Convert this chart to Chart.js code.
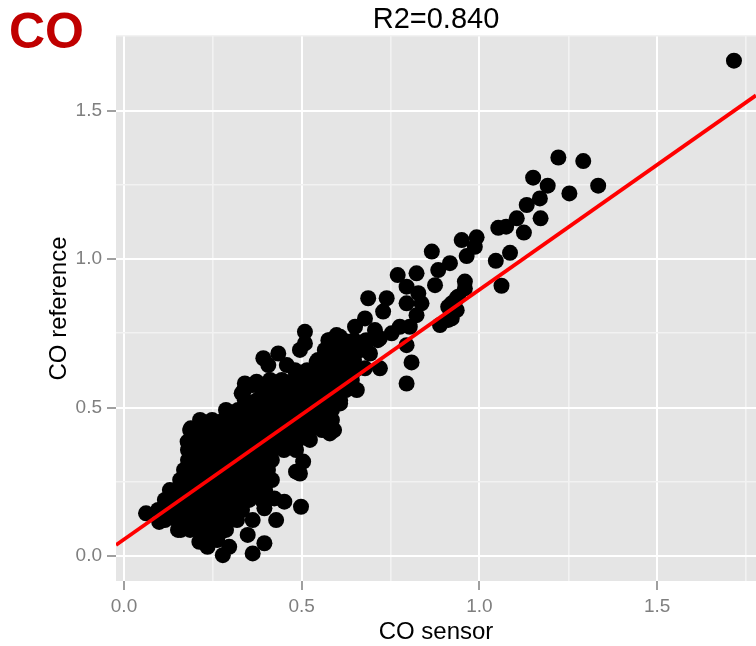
<!DOCTYPE html>
<html>
<head>
<meta charset="utf-8">
<script src="https://cdn.jsdelivr.net/npm/chart.js@4.4.1/dist/chart.umd.min.js"></script>
<style>
  html, body { margin: 0; padding: 0; background: #ffffff; }
  #wrap { position: relative; width: 756px; height: 646px; }
  #c { display: block; }
  #panel { position: absolute; left: 9px; top: 5.6px; font: bold 50px "Liberation Sans", Arial, sans-serif; line-height: 50px; color: #C00000; }
</style>
</head>
<body>
<div id="wrap">
  <canvas id="c" width="756" height="646"></canvas>
  <div id="panel">CO</div>
</div>
<script>
// ---- data ----
const chartTitle = 'R2=0.840';
const xTitle = 'CO sensor';
const yTitle = 'CO reference';
const majorTicks = [0.0, 0.5, 1.0, 1.5];

// individually distinguishable points
const sparseSensor = [1.716,1.222,1.292,1.151,1.192,1.334,1.253,1.170,1.133,1.105,
  1.172,1.053,1.075,1.125,0.950,0.992,0.987,0.964,1.086,1.046,
  0.917,1.062,0.959,0.959,0.940,0.922,0.922,0.866,0.884,0.770,
  0.823,0.875,0.795,0.828,0.687,0.739,0.729,0.795,0.837,0.936,
  0.912,0.936,0.912,0.889,0.823,0.804,0.776,0.753,0.678,0.650,
  0.706,0.720,0.678,0.692,0.608,0.575,0.509,0.509,0.795,0.809,
  0.795,0.720,0.678,0.655,0.617,0.626,0.598,0.579,0.626,0.495,
  0.434,0.392,0.458,0.406,0.542,0.608,0.340,0.373,0.331,0.434,
  0.495,0.608,0.570,0.579,0.537,0.289,0.354,0.504,0.495,0.467,
  0.338,0.362,0.188,0.221,0.179,0.484,0.423,0.451,0.498,0.395,
  0.362,0.428,0.348,0.395,0.362,0.296,0.278,0.268,0.212,0.235,
  0.160,0.099,0.062,0.132,0.287];
const sparseReference = [1.668,1.342,1.330,1.274,1.247,1.247,1.221,1.204,1.182,1.137,
  1.137,1.105,1.109,1.089,1.064,1.073,1.041,1.010,1.021,0.994,
  0.986,0.910,0.924,0.901,0.873,0.851,0.800,1.025,0.963,0.946,
  0.952,0.912,0.907,0.885,0.868,0.868,0.823,0.851,0.851,0.868,
  0.839,0.828,0.795,0.778,0.811,0.772,0.772,0.750,0.800,0.772,
  0.761,0.733,0.705,0.682,0.738,0.727,0.755,0.716,0.710,0.652,
  0.581,0.632,0.632,0.559,0.688,0.637,0.744,0.722,0.722,0.694,
  0.682,0.666,0.643,0.643,0.654,0.660,0.581,0.587,0.548,0.559,
  0.604,0.514,0.435,0.413,0.435,0.475,0.475,0.318,0.278,0.368,
  0.559,0.576,0.430,0.441,0.385,0.284,0.194,0.183,0.166,0.161,
  0.121,0.121,0.071,0.043,0.009,0.031,0.003,0.076,0.048,0.031,
  0.088,0.115,0.144,0.144,0.121];

// dense core of the cloud, read row by row (one reference value per row)
const coreRowReference = [0.727,0.694,0.660,0.626,0.593,0.559,0.525,0.492,0.458,0.424,0.391,
  0.357,0.323,0.290,0.256,0.222,0.189,0.155,0.121,0.088,0.054];
const coreRowSensor = [
  [0.579,0.613,0.647,0.681,0.714],
  [0.565,0.599,0.633,0.667],
  [0.546,0.579,0.613,0.647],
  [0.481,0.515,0.549,0.582,0.616,0.650],
  [0.411,0.444,0.478,0.512,0.546,0.579,0.608,0.641],
  [0.388,0.422,0.456,0.489,0.523,0.557,0.591,0.624],
  [0.340,0.374,0.408,0.442,0.475,0.509,0.543,0.577,0.608],
  [0.287,0.321,0.354,0.388,0.422,0.456,0.489,0.523,0.557,0.585],
  [0.214,0.248,0.281,0.315,0.349,0.383,0.416,0.450,0.484,0.518,0.551,0.585],
  [0.186,0.219,0.253,0.287,0.321,0.354,0.388,0.422,0.456,0.489,0.523,0.557,0.591],
  [0.186,0.219,0.253,0.287,0.321,0.354,0.388,0.422,0.456,0.489,0.523],
  [0.180,0.214,0.248,0.281,0.315,0.349,0.383,0.416,0.450,0.484],
  [0.180,0.214,0.248,0.281,0.315,0.349,0.383,0.416],
  [0.169,0.203,0.236,0.270,0.304,0.338,0.371,0.405],
  [0.158,0.191,0.225,0.259,0.293,0.326,0.360,0.394,0.416],
  [0.129,0.163,0.197,0.231,0.264,0.298,0.332,0.366,0.397],
  [0.115,0.149,0.183,0.217,0.250,0.284,0.318,0.352,0.388],
  [0.096,0.129,0.163,0.197,0.231,0.264,0.298,0.332],
  [0.115,0.149,0.183,0.217,0.250,0.284,0.318],
  [0.152,0.186,0.219,0.253,0.287],
  [0.228,0.262]
];

// fitted regression line, read at the panel edges
const fitSensor = [-0.0225, 1.778];
const fitReference = [0.037, 1.551];

// axis limits of the panel
const xLimits = [-0.0225, 1.778];
const yLimits = [-0.084, 1.751];

// ---- build chart data ----
const scatterData = sparseSensor.map((x, i) => ({ x: x, y: sparseReference[i] }));
coreRowSensor.forEach((row, r) => row.forEach(x => scatterData.push({ x: x, y: coreRowReference[r] })));
const lineData = fitSensor.map((x, i) => ({ x: x, y: fitReference[i] }));

const isMajor = v => majorTicks.some(m => Math.abs(m - v) < 1e-6);
const FONT = '"Liberation Sans", Arial, Helvetica, sans-serif';

const panelBg = {
  id: 'panelBg',
  beforeDraw(chart) {
    const { ctx, chartArea: a } = chart;
    ctx.save();
    ctx.fillStyle = '#E5E5E5';
    ctx.fillRect(a.left, a.top, a.right - a.left, a.bottom - a.top);
    ctx.restore();
  }
};

function axisGrid() {
  return {
    drawOnChartArea: true,
    drawTicks: true,
    tickLength: 9,
    color: ctx => (ctx.tick && isMajor(ctx.tick.value)) ? '#FFFFFF' : '#F2F2F2',
    lineWidth: ctx => (ctx.tick && isMajor(ctx.tick.value)) ? 2 : 1.6,
    tickColor: ctx => (ctx.tick && isMajor(ctx.tick.value)) ? '#7F7F7F' : 'rgba(0,0,0,0)',
    tickWidth: 1.5
  };
}

new Chart(document.getElementById('c'), {
  data: {
    datasets: [
      {
        type: 'line',
        data: lineData,
        borderColor: '#FF0000',
        borderWidth: 3.8,
        pointRadius: 0,
        fill: false,
        order: 0
      },
      {
        type: 'scatter',
        data: scatterData,
        backgroundColor: '#000000',
        borderWidth: 0,
        pointRadius: 8,
        pointHoverRadius: 8,
        order: 1
      }
    ]
  },
  options: {
    responsive: false,
    devicePixelRatio: 1,
    animation: false,
    events: [],
    layout: { padding: 0, autoPadding: false },
    plugins: {
      legend: { display: false },
      tooltip: { enabled: false },
      title: {
        display: true,
        text: chartTitle,
        color: '#000000',
        fullSize: false,
        font: { family: FONT, size: 29, weight: 'normal', lineHeight: 1 },
        padding: { top: 5, bottom: 2 }
      }
    },
    scales: {
      x: {
        type: 'linear',
        position: 'bottom',
        min: xLimits[0],
        max: xLimits[1],
        border: { display: false },
        grid: axisGrid(),
        ticks: {
          stepSize: 0.25,
          includeBounds: false,
          autoSkip: false,
          maxRotation: 0,
          padding: 5,
          color: '#7F7F7F',
          font: { family: FONT, size: 19 },
          callback: v => isMajor(v) ? v.toFixed(1) : ''
        },
        title: {
          display: true,
          text: xTitle,
          color: '#000000',
          font: { family: FONT, size: 24, lineHeight: 1 },
          padding: { top: 0, bottom: 1.5 }
        },
        afterFit: s => { s.height = 65; s.paddingLeft = 0; s.paddingRight = 0; }
      },
      y: {
        type: 'linear',
        position: 'left',
        min: yLimits[0],
        max: yLimits[1],
        border: { display: false },
        grid: axisGrid(),
        ticks: {
          stepSize: 0.25,
          includeBounds: false,
          autoSkip: false,
          padding: 5,
          color: '#7F7F7F',
          font: { family: FONT, size: 19 },
          callback: v => isMajor(v) ? v.toFixed(1) : ''
        },
        title: {
          display: true,
          text: yTitle,
          color: '#000000',
          font: { family: FONT, size: 24, lineHeight: 1 },
          padding: { top: 47, bottom: 0 }
        },
        afterFit: s => { s.width = 116; s.paddingTop = 0; s.paddingBottom = 0; }
      }
    }
  },
  plugins: [panelBg]
});
</script>
</body>
</html>
